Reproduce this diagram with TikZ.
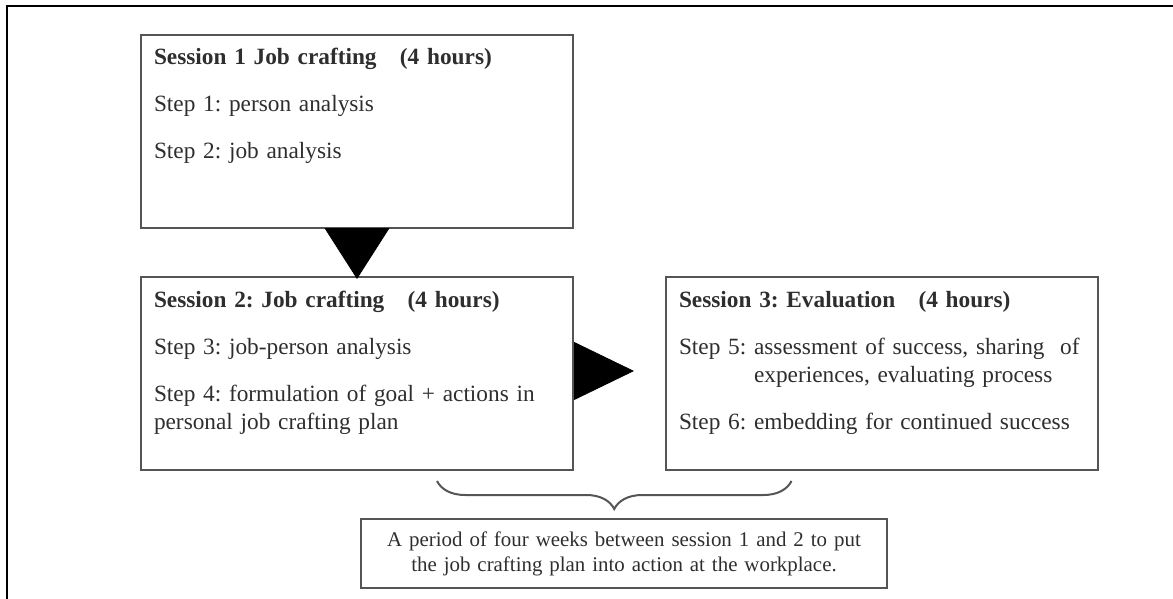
\documentclass[tikz,border=0pt]{standalone}
\usepackage{fontspec}
\setmainfont{Liberation Serif}
\usepackage{tikz}
\usetikzlibrary{arrows.meta, positioning, calc, decorations.pathreplacing}
\definecolor{boxgray}{HTML}{555555}
\definecolor{inkgray}{HTML}{2E2E2E}
\frenchspacing
\hyphenpenalty=10000

\begin{document}
\begin{tikzpicture}[font=\fontsize{11.65}{14}\selectfont, node distance=23.5pt and 45.5pt,
    sessbox/.style={draw=boxgray, line width=1pt, text=inkgray, text width=203pt, inner xsep=6.5pt, inner ysep=6pt, text height=9pt, text depth=75.5pt, align=left},
    notebox/.style={draw=boxgray, line width=1pt, text=inkgray, font=\fontsize{10.45}{12.5}\selectfont, text width=250pt, inner xsep=6.5pt, minimum height=34.5pt, align=center},
    bigtip/.style={line width=0.4pt, -{Triangle[#1]}}]
    \useasboundingbox (0,0) rectangle (586.5pt,-299.5pt);
    \draw[line width=1pt] (3.5pt,-299.5pt) -- (3.5pt,-3pt) -- (586.5pt,-3pt);

    \node[sessbox, anchor=north west] (s1) at (70pt,-17pt) {\textbf{Session 1 Job crafting~~~(4 hours)}\\[9.5pt] Step 1: person analysis\\[9.5pt] Step 2: job analysis};
    \node[sessbox, below=of s1] (s2) {\textbf{Session 2: Job crafting~~~(4 hours)}\\[9.5pt] Step 3: job-person analysis\\[9.5pt] Step 4: formulation of goal + actions in\\ personal job crafting plan};
    \node[sessbox, right=of s2] (s3) {\textbf{Session 3: Evaluation~~~(4 hours)}\\[9.5pt] Step 5: assessment of success, sharing~~of\\ \phantom{Step 5: }experiences, evaluating process\\[9.5pt] Step 6: embedding for continued success};

    \coordinate (mid) at ($(s2.south east)!0.5!(s3.south west)$);
    \node[notebox, below=23.5pt of mid, xshift=2.25pt] (note) {A period of four weeks between session 1 and 2 to put\\ the job crafting plan into action at the workplace.};

    \draw[bigtip={length=25.5pt, width=32.5pt}] (s1.south) -- ([yshift=-1.5pt]s2.north);
    \draw[bigtip={length=30pt, width=29pt}, shorten >=15.5pt] ([yshift=1.25pt]s2.east) -- ([yshift=1.25pt]s2.east -| s3.west);

    \coordinate (bl) at ($(mid)+(-91.25pt,-5pt)$);
    \coordinate (br) at ($(mid)+(86pt,-5pt)$);
    \draw[boxgray, line width=1pt, decorate, decoration={brace, mirror, amplitude=14pt}] (bl) -- (br);
\end{tikzpicture}
\end{document}
